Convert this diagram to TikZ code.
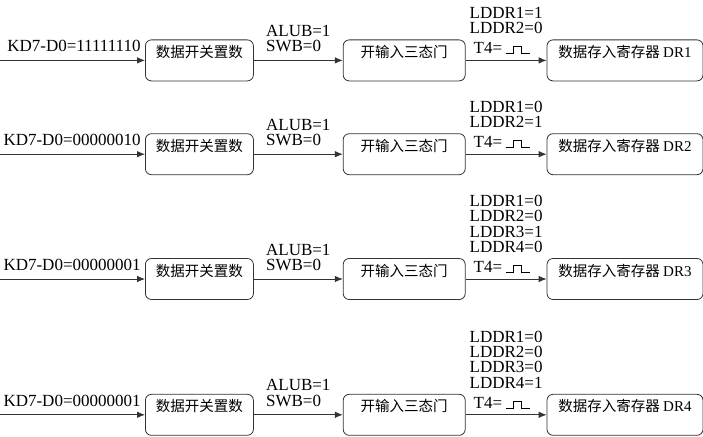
\documentclass[tikz,border=0pt]{standalone}
\usepackage{fontspec}
\setmainfont{Liberation Serif}
\newfontfamily\cjk{Noto Sans CJK SC}
\usetikzlibrary{arrows.meta, positioning}
\tikzset{
  blk/.style ={rectangle, rounded corners=6pt, draw=black!80, line width=0.8pt, inner xsep=2pt, inner ysep=3pt, text height=14.5pt, text depth=20.5pt, font=\cjk\fontsize{14.5}{16}\selectfont},
  sw/.style  ={blk, minimum width=108pt},
  gt/.style  ={blk, minimum width=122pt},
  rg/.style  ={blk, minimum width=156pt},
  fl/.style  ={-{Latex[length=8pt, width=6.5pt]}, draw=black!80, line width=0.8pt},
  lbl/.style ={font=\fontsize{17}{15.2}\selectfont, inner sep=1pt, align=left},
}
\newcommand{\pulsesym}{\tikz[baseline=0pt]\draw[-, line width=0.8pt, black] (0,0) -- (8pt,0) -- (8pt,7pt) -- (16pt,7pt) -- (16pt,0) -- (24pt,0);}
\newcommand{\regtxt}[1]{数据存入寄存器 {\rmfamily\fontsize{15}{16}\selectfont DR#1}}

\begin{document}
\begin{tikzpicture}[x=1pt, y=1pt, >=Latex]
  \useasboundingbox (0,0) rectangle (703,-436);
  \node[sw, anchor=north west] (b1) at (145,-39.5) {数据开关置数};
  \node[gt, right=89pt of b1] (g1) {开输入三态门};
  \node[rg, right=81pt of g1] (r1) {\regtxt{1}};
  \node[sw, below=52pt of b1] (b2) {数据开关置数};
  \node[gt, right=89pt of b2] (g2) {开输入三态门};
  \node[rg, right=81pt of g2] (r2) {\regtxt{2}};
  \node[sw, below=83pt of b2] (b3) {数据开关置数};
  \node[gt, right=89pt of b3] (g3) {开输入三态门};
  \node[rg, right=81pt of g3] (r3) {\regtxt{3}};
  \node[sw, below=94pt of b3] (b4) {数据开关置数};
  \node[gt, right=89pt of b4] (g4) {开输入三态门};
  \node[rg, right=81pt of g4] (r4) {\regtxt{4}};
  \coordinate[left=145pt of b1.west] (i1);
  \coordinate[left=145pt of b2.west] (i2);
  \coordinate[left=145pt of b3.west] (i3);
  \coordinate[left=145pt of b4.west] (i4);
  \draw[fl] (i1) -- node[lbl, above left=7pt and 3pt, pos=1] {KD7-D0=11111110} (b1);
  \draw[fl] (b1) -- node[lbl, above=7pt] {ALUB=1\\SWB=0} (g1);
  \draw[fl] (g1) -- node[lbl, above=5pt] {LDDR1=1\\LDDR2=0\\[5pt]\hspace*{4pt}T4=\hspace{3pt}\pulsesym} (r1);
  \draw[fl] (i2) -- node[lbl, above left=7pt and 3pt, pos=1] {KD7-D0=00000010} (b2);
  \draw[fl] (b2) -- node[lbl, above=7pt] {ALUB=1\\SWB=0} (g2);
  \draw[fl] (g2) -- node[lbl, above=5pt] {LDDR1=0\\LDDR2=1\\[5pt]\hspace*{4pt}T4=\hspace{3pt}\pulsesym} (r2);
  \draw[fl] (i3) -- node[lbl, above left=7pt and 3pt, pos=1] {KD7-D0=00000001} (b3);
  \draw[fl] (b3) -- node[lbl, above=7pt] {ALUB=1\\SWB=0} (g3);
  \draw[fl] (g3) -- node[lbl, above=5pt] {LDDR1=0\\LDDR2=0\\LDDR3=1\\LDDR4=0\\[5pt]\hspace*{4pt}T4=\hspace{3pt}\pulsesym} (r3);
  \draw[fl] (i4) -- node[lbl, above left=7pt and 3pt, pos=1] {KD7-D0=00000001} (b4);
  \draw[fl] (b4) -- node[lbl, above=7pt] {ALUB=1\\SWB=0} (g4);
  \draw[fl] (g4) -- node[lbl, above=5pt] {LDDR1=0\\LDDR2=0\\LDDR3=0\\LDDR4=1\\[5pt]\hspace*{4pt}T4=\hspace{3pt}\pulsesym} (r4);
\end{tikzpicture}
\end{document}
